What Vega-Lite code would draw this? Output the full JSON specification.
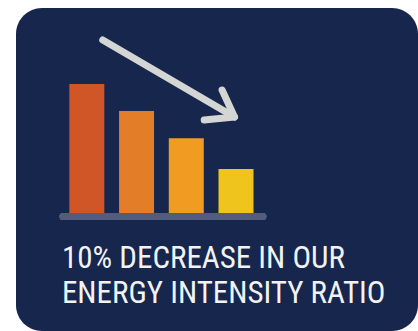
{
  "$schema": "https://vega.github.io/schema/vega-lite/v6.json",
  "autosize": {"type": "none"},
  "padding": {"left": 16, "top": 8, "right": 0, "bottom": 0},
  "width": 402,
  "height": 323,
  "background": "#ffffff",
  "config": {
    "view": {"fill": "#16264d", "stroke": null, "cornerRadius": 26},
    "axis": {"disable": true}
  },
  "datasets": {
    "bars": [
      {"period": 1, "intensity": 100},
      {"period": 2, "intensity": 79},
      {"period": 3, "intensity": 58},
      {"period": 4, "intensity": 34}
    ],
    "arrow": [
      {"seg": "shaft", "ord": 1, "px": 1.32, "py": 134.1},
      {"seg": "shaft", "ord": 2, "px": 3.97, "py": 74.4},
      {"seg": "head", "ord": 1, "px": 3.72, "py": 95.3},
      {"seg": "head", "ord": 2, "px": 3.97, "py": 74.4},
      {"seg": "head", "ord": 3, "px": 3.36, "py": 72.1}
    ],
    "labels": [
      {"line": 1, "label": "10% DECREASE IN OUR", "lx": 0.5, "ly": -42.6},
      {"line": 2, "label": "ENERGY INTENSITY RATIO", "lx": 0.5, "ly": -69.8}
    ]
  },
  "layer": [
    {
      "data": {"name": "bars"},
      "mark": {"type": "rule", "stroke": "#525d7e", "strokeWidth": 7, "strokeCap": "round"},
      "encoding": {
        "x": {"datum": 0.52, "type": "quantitative", "scale": {"domain": [-0.3235, 7.559], "nice": false, "zero": false}},
        "x2": {"datum": 4.54},
        "y": {"datum": -2.7, "type": "quantitative", "scale": {"domain": [-91.5, 158.9], "nice": false, "zero": false}}
      }
    },
    {
      "data": {"name": "bars"},
      "mark": {"type": "bar", "width": 35},
      "encoding": {
        "x": {"field": "period", "type": "quantitative", "scale": {"domain": [-0.3235, 7.559], "nice": false, "zero": false}},
        "y": {"field": "intensity", "type": "quantitative", "scale": {"domain": [-91.5, 158.9], "nice": false, "zero": false}},
        "y2": {"datum": 0},
        "color": {"field": "period", "type": "nominal", "legend": null, "scale": {"range": ["#d15627", "#e47d28", "#f09c22", "#efc41d"]}}
      }
    },
    {
      "data": {"name": "arrow"},
      "mark": {"type": "line", "stroke": "#d3d6d3", "strokeWidth": 7, "strokeCap": "round", "strokeJoin": "round"},
      "encoding": {
        "x": {"field": "px", "type": "quantitative", "scale": {"domain": [-0.3235, 7.559], "nice": false, "zero": false}},
        "y": {"field": "py", "type": "quantitative", "scale": {"domain": [-91.5, 158.9], "nice": false, "zero": false}},
        "detail": {"field": "seg"},
        "order": {"field": "ord"}
      }
    },
    {
      "data": {"name": "labels"},
      "mark": {"type": "text", "align": "left", "baseline": "alphabetic", "fontSize": 31, "font": "Roboto Condensed, Liberation Sans Narrow, DejaVu Sans Condensed, Roboto, sans-serif", "fill": "#f2f2f2"},
      "encoding": {
        "x": {"field": "lx", "type": "quantitative", "scale": {"domain": [-0.3235, 7.559], "nice": false, "zero": false}},
        "y": {"field": "ly", "type": "quantitative", "scale": {"domain": [-91.5, 158.9], "nice": false, "zero": false}},
        "text": {"field": "label"}
      }
    }
  ]
}
